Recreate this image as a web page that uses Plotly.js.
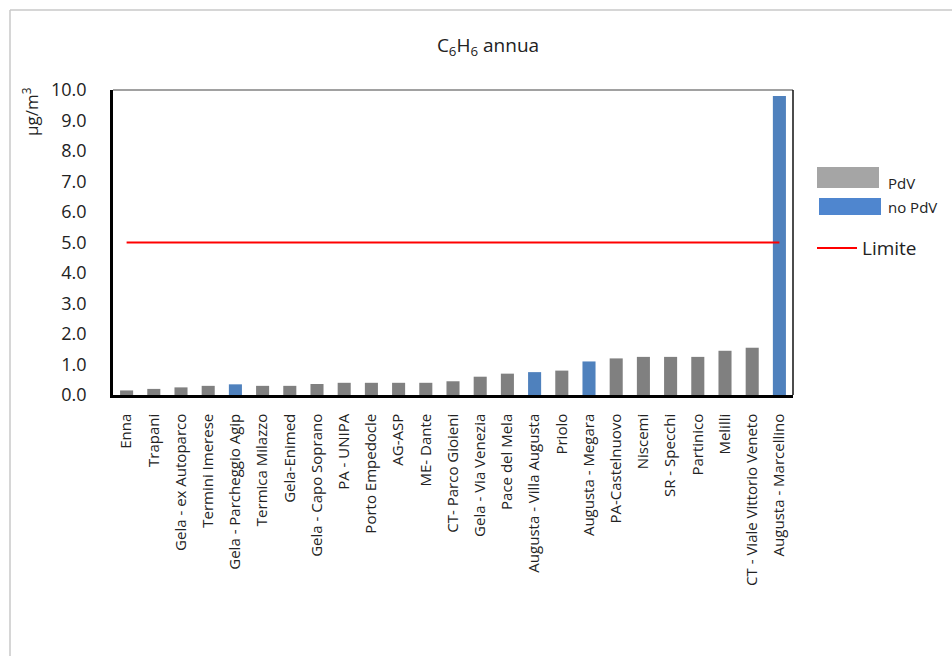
<!DOCTYPE html>
<html>
<head>
<meta charset="utf-8">
<script src="https://cdn.plot.ly/plotly-3.0.1.min.js"></script>
<style>html,body{margin:0;padding:0;background:#fff;}#chart{width:952px;height:656px;}</style>
</head>
<body>
<div id="chart"></div>
<script>
// ---- data ----
const stations = [
  "Enna","Trapani","Gela - ex Autoparco","Termini Imerese","Gela - Parcheggio Agip",
  "Termica Milazzo","Gela-Enimed","Gela - Capo Soprano","PA - UNIPA","Porto Empedocle",
  "AG-ASP","ME- Dante","CT- Parco Gioieni","Gela - Via Venezia","Pace del Mela",
  "Augusta - Villa Augusta","Priolo","Augusta - Megara","PA-Castelnuovo","Niscemi",
  "SR - Specchi","Partinico","Melilli","CT - Viale Vittorio Veneto","Augusta - Marcellino"
];
const values = [
  0.15,0.2,0.25,0.3,0.35,
  0.3,0.3,0.36,0.4,0.4,
  0.4,0.4,0.45,0.6,0.7,
  0.75,0.8,1.1,1.2,1.25,
  1.25,1.25,1.45,1.55,9.8
];
const pdv = [
  true,true,true,true,false,
  true,true,true,true,true,
  true,true,true,true,true,
  false,true,false,true,true,
  true,true,true,true,false
];
const limite = 5.0;
const yTicks = [0,1,2,3,4,5,6,7,8,9,10];

// ---- styling ----
const GRAY = "#808080", BLUE = "#4f81bd", RED = "#ff0000";
const FONT = "Open Sans, Liberation Sans, sans-serif";
const W = 952, H = 656, L = 113, R = 793, T = 90, B = 395;
const px = x => (x - L) / (R - L);
const py = y => (B - y) / (B - T);

const traces = [
  {
    type: "bar",
    x: stations,
    y: values,
    marker: {color: pdv.map(p => p ? GRAY : BLUE)},
    showlegend: false,
    hoverinfo: "x+y"
  },
  {
    type: "scatter",
    mode: "lines",
    x: stations,
    y: stations.map(() => limite),
    line: {color: RED, width: 2.2},
    showlegend: false
  }
];

const layout = {
  width: W, height: H,
  margin: {l: L, r: W - R, t: T, b: H - B, pad: 0},
  paper_bgcolor: "#fff",
  plot_bgcolor: "#fff",
  font: {family: FONT, color: "#222"},
  bargap: 0.52,
  showlegend: false,
  title: {
    text: "C<sub>6</sub>H<sub>6</sub> annua",
    font: {size: 19, color: "#222", family: FONT},
    x: 488 / W, xref: "container", xanchor: "center",
    y: 1 - 45 / H, yref: "container", yanchor: "middle"
  },
  xaxis: {
    type: "category",
    tickangle: -90,
    tickfont: {size: 15, color: "#222", family: FONT},
    showline: true, linecolor: "#000", linewidth: 2.5,
    ticks: "", showgrid: false, zeroline: false,
    ticklabelstandoff: 10
  },
  yaxis: {
    range: [0, 10],
    tickvals: yTicks,
    tickformat: ".1f",
    tickfont: {size: 18, color: "#222", family: FONT},
    showline: true, linecolor: "#000", linewidth: 2.5,
    ticks: "", showgrid: false, zeroline: false,
    ticklabelstandoff: 20
  },
  shapes: [
    // plot frame top/right
    {type: "line", xref: "paper", yref: "paper", x0: 0, x1: 1, y0: 1, y1: 1, line: {color: "#444", width: 1.2}},
    {type: "line", xref: "paper", yref: "paper", x0: 1, x1: 1, y0: 0, y1: 1, line: {color: "#111", width: 1.5}},
    // outer chart border
    {type: "line", xref: "paper", yref: "paper", x0: px(10), x1: px(10), y0: py(10), y1: py(700), line: {color: "#c8c8c8", width: 1.5}},
    {type: "line", xref: "paper", yref: "paper", x0: px(10), x1: px(1000), y0: py(10), y1: py(10), line: {color: "#c8c8c8", width: 1.5}},
    // legend symbols
    {type: "rect", xref: "paper", yref: "paper", x0: px(817), x1: px(879), y0: py(188), y1: py(167), fillcolor: "#a5a5a5", line: {width: 0}},
    {type: "rect", xref: "paper", yref: "paper", x0: px(819), x1: px(881), y0: py(215), y1: py(198), fillcolor: "#4f86cf", line: {width: 0}},
    {type: "line", xref: "paper", yref: "paper", x0: px(817), x1: px(857), y0: py(248), y1: py(248), line: {color: RED, width: 2.2}}
  ],
  annotations: [
    {text: "PdV", xref: "paper", yref: "paper", x: px(886), y: py(183), xanchor: "left", yanchor: "middle", showarrow: false, font: {size: 15, color: "#222", family: FONT}},
    {text: "no PdV", xref: "paper", yref: "paper", x: px(886), y: py(207), xanchor: "left", yanchor: "middle", showarrow: false, font: {size: 15, color: "#222", family: FONT}},
    {text: "Limite", xref: "paper", yref: "paper", x: px(860), y: py(248), xanchor: "left", yanchor: "middle", showarrow: false, font: {size: 19, color: "#222", family: FONT}},
    {text: "µg/m<sup>3</sup>", xref: "paper", yref: "paper", x: px(30), y: py(112), xanchor: "center", yanchor: "middle", textangle: -90, showarrow: false, font: {size: 17, color: "#222", family: FONT}}
  ]
};

Plotly.newPlot("chart", traces, layout, {displayModeBar: false, responsive: false});
</script>
</body>
</html>
